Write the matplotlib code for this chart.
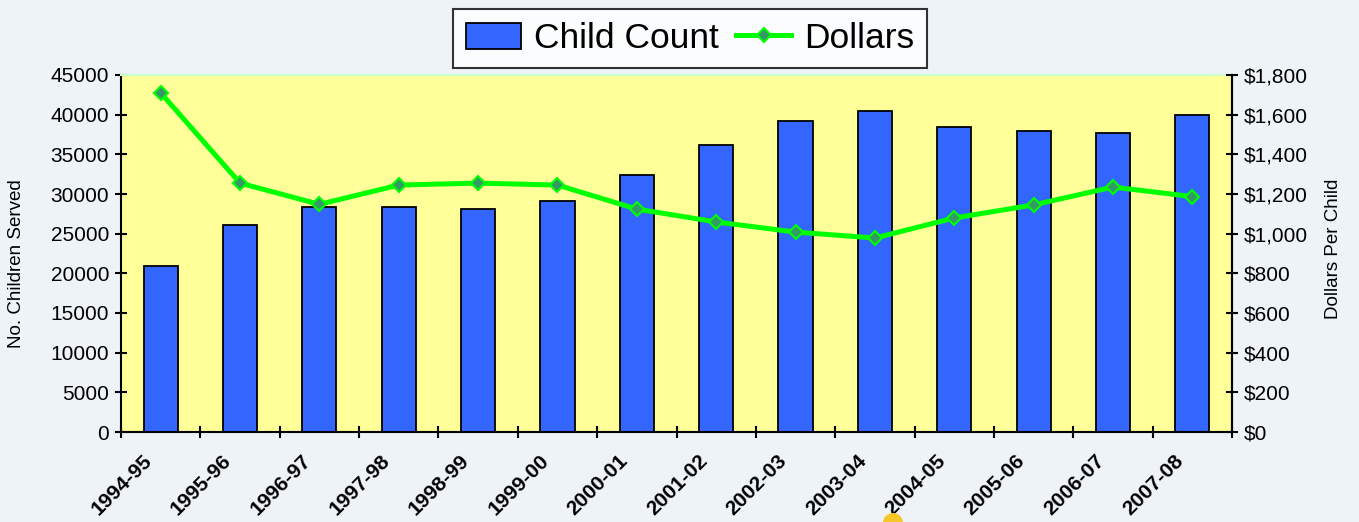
import numpy as np
import matplotlib
matplotlib.use("Agg")
import matplotlib.pyplot as plt
from matplotlib.transforms import ScaledTranslation
from matplotlib.patches import Circle

categories = ["1994-95", "1995-96", "1996-97", "1997-98", "1998-99", "1999-00",
              "2000-01", "2001-02", "2002-03", "2003-04", "2004-05", "2005-06",
              "2006-07", "2007-08"]
child_count = [20900, 26100, 28400, 28400, 28100, 29100, 32400, 36200,
               39200, 40500, 38400, 37900, 37700, 40000]
dollars = [1710, 1255, 1148, 1245, 1255, 1245, 1124, 1059, 1008, 978,
           1079, 1145, 1235, 1187]
left_ticks = list(range(0, 45001, 5000))
right_ticks = list(range(0, 1801, 200))

plt.rcParams['font.family'] = ['Liberation Sans', 'DejaVu Sans']

fig = plt.figure(figsize=(13.59, 5.22), dpi=100)
fig.patch.set_facecolor('#EEF3F8')

ax = fig.add_axes([121/1359, 90/522, 1111/1359, 357/522])
ax.set_facecolor('#FFFF99')
x = np.arange(len(categories))
bars = ax.bar(x, child_count, width=0.43, color='#3366FF', edgecolor='black',
              linewidth=1.3, label='Child Count', zorder=2)
ax.set_xlim(-0.5, len(categories) - 0.5)
ax.set_ylim(0, 45000)
ax.set_yticks(left_ticks)
ax.set_yticklabels([str(v) for v in left_ticks], fontsize=15)
ax.set_xticks(np.arange(len(categories) + 1) - 0.5)
ax.set_xticklabels([])
label_tr = ax.get_xaxis_transform() + ScaledTranslation(0.28, -0.26, fig.dpi_scale_trans)
for i, c in enumerate(categories):
    ax.text(i - 0.5, 0, c, transform=label_tr, rotation=45, ha='right',
            va='center', rotation_mode='anchor', fontsize=15,
            fontweight='bold', clip_on=False)
ax.tick_params(axis='both', direction='inout', length=9, width=1.5)
ax.tick_params(axis='y', pad=4)
for s in ['left', 'bottom', 'right']:
    ax.spines[s].set_linewidth(1.5)
    ax.spines[s].set_color('black')
ax.spines['top'].set_color('#CCFFCC')
ax.spines['top'].set_linewidth(1.5)

ax2 = ax.twinx()
ax2.set_ylim(0, 1800)
ax2.set_yticks(right_ticks)
ax2.set_yticklabels(['${:,}'.format(v) for v in right_ticks], fontsize=15)
ax2.tick_params(axis='y', direction='inout', length=9, width=1.5, pad=4)
for s in ['left', 'bottom', 'top']:
    ax2.spines[s].set_visible(False)
ax2.spines['right'].set_linewidth(1.5)
line, = ax2.plot(x, dollars, color='#00FF00', linewidth=3.6, marker='D',
                 markersize=7.5, markerfacecolor='#339966',
                 markeredgecolor='#00FF00', markeredgewidth=1.5,
                 label='Dollars', zorder=3)

fig.text(17/1359, 1 - 264/522, 'No. Children Served', rotation=90,
         ha='center', va='center', fontsize=13.5)
fig.text(1334/1359, 1 - 249/522, 'Dollars Per Child', rotation=90,
         ha='center', va='center', fontsize=13.5)

leg = fig.legend([bars, line], ['Child Count', 'Dollars'], loc='center',
                 bbox_to_anchor=(690/1359, 1 - 38.5/522), ncol=2,
                 prop={'family': ['Liberation Sans', 'DejaVu Sans'], 'size': 25.5},
                 frameon=True, fancybox=False, edgecolor='black',
                 handlelength=1.55, handleheight=0.75, handletextpad=0.36,
                 columnspacing=0.5, borderpad=0.36, borderaxespad=0)
leg.get_frame().set_linewidth(1.5)
leg.get_frame().set_facecolor('white')

fig.patches.append(Circle((8.93, -0.01), 0.1, transform=fig.dpi_scale_trans,
                          facecolor='#F7C72A', edgecolor='none'))

fig.savefig('out.png', dpi=100, facecolor=fig.get_facecolor())
